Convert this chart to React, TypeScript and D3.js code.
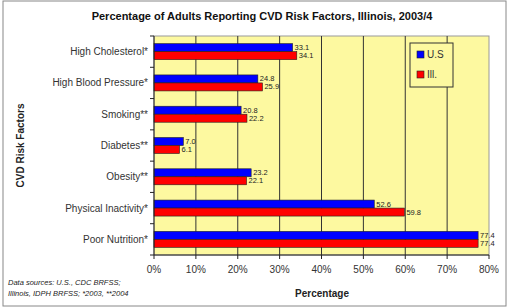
import React from "react";
import * as d3 from "d3";

const categories = [
  "High Cholesterol*",
  "High Blood Pressure*",
  "Smoking**",
  "Diabetes**",
  "Obesity**",
  "Physical Inactivity*",
  "Poor Nutrition*",
];
const usValues = [33.1, 24.8, 20.8, 7.0, 23.2, 52.6, 77.4];
const ilValues = [34.1, 25.9, 22.2, 6.1, 22.1, 59.8, 77.4];
const xTicks = [0, 10, 20, 30, 40, 50, 60, 70, 80];
const seriesNames = ["U.S", "Ill."];
const seriesColors = ["#0000ff", "#ff0000"];

export default function App() {
  const W = 508, H = 307;
  const left = 154, right = 489, top = 36, bottom = 255;
  const x = d3.scaleLinear().domain([0, 80]).range([left, right]);
  const y = d3.scaleBand<string>().domain(categories).range([top, bottom]).paddingInner(0).paddingOuter(0);
  const bw = y.bandwidth();
  const barH = 8;
  const font = "Arial, 'Liberation Sans', sans-serif";
  const series = [usValues, ilValues];

  return (
    <svg width={W} height={H} style={{ position: "absolute", left: 0, top: 0, background: "#fff" }}>
      <rect x={3} y={1} width={503} height={305} fill="#fff" stroke="#888" strokeWidth={1} />
      <text x={262} y={20} textAnchor="middle" fontFamily={font} fontWeight="bold" fontSize={11} fill="#111">
        Percentage of Adults Reporting CVD Risk Factors, Illinois, 2003/4
      </text>
      <rect x={left} y={top} width={right - left} height={bottom - top} fill="#fdf9a0" stroke="#999" strokeWidth={1} />
      {xTicks.slice(1, -1).map((t) => (
        <line key={t} x1={x(t)} x2={x(t)} y1={top} y2={bottom} stroke="#333" strokeWidth={1} />
      ))}
      {categories.map((c, i) => {
        const y0 = (y(c) as number) + bw / 2 - barH;
        return (
          <g key={c}>
            {series.map((vals, s) => (
              <g key={s}>
                <rect
                  x={x(0)}
                  y={y0 + s * barH}
                  width={x(vals[i]) - x(0)}
                  height={barH}
                  fill={seriesColors[s]}
                  stroke="#222"
                  strokeWidth={0.6}
                />
                <text
                  x={x(vals[i]) + 2}
                  y={y0 + s * barH + barH / 2 + 2.5}
                  fontFamily={font}
                  fontSize={7.5}
                  fill="#222"
                >
                  {vals[i].toFixed(1)}
                </text>
              </g>
            ))}
            <text x={148} y={(y(c) as number) + bw / 2 + 3.5} textAnchor="end" fontFamily={font} fontSize={10} fill="#333">
              {c}
            </text>
          </g>
        );
      })}
      <line x1={left} x2={left} y1={top} y2={bottom} stroke="#222" />
      <line x1={left} x2={right} y1={bottom} y2={bottom} stroke="#222" />
      {categories.concat([""]).map((c, i) => {
        const yy = top + i * bw;
        return <line key={i} x1={left - 4} x2={left} y1={yy} y2={yy} stroke="#222" />;
      })}
      {xTicks.map((t) => (
        <g key={t}>
          <line x1={x(t)} x2={x(t)} y1={bottom} y2={bottom + 4} stroke="#222" />
          <text x={x(t)} y={bottom + 18} textAnchor="middle" fontFamily={font} fontSize={10} fill="#333">
            {t}%
          </text>
        </g>
      ))}
      <text x={322} y={297} textAnchor="middle" fontFamily={font} fontWeight="bold" fontSize={10} fill="#222">
        Percentage
      </text>
      <text
        transform={`translate(24, ${(top + bottom) / 2}) rotate(-90)`}
        textAnchor="middle"
        fontFamily={font}
        fontWeight="bold"
        fontSize={10}
        fill="#222"
      >
        CVD Risk Factors
      </text>
      <text x={8} y={285} fontFamily={font} fontStyle="italic" fontSize={7.5} fill="#222">
        Data sources:  U.S., CDC BRFSS;
      </text>
      <text x={8} y={296} fontFamily={font} fontStyle="italic" fontSize={7.5} fill="#222">
        Illinois, IDPH BRFSS; *2003, **2004
      </text>
      <rect x={410} y={43} width={43} height={44} fill="#fdf9a0" stroke="#333" strokeWidth={1} />
      {seriesNames.map((n, s) => (
        <g key={n}>
          <rect x={417} y={51 + s * 20} width={7} height={7} fill={seriesColors[s]} stroke="#222" strokeWidth={0.6} />
          <text x={427} y={58 + s * 20} fontFamily={font} fontSize={10} fill="#333">
            {n}
          </text>
        </g>
      ))}
    </svg>
  );
}
